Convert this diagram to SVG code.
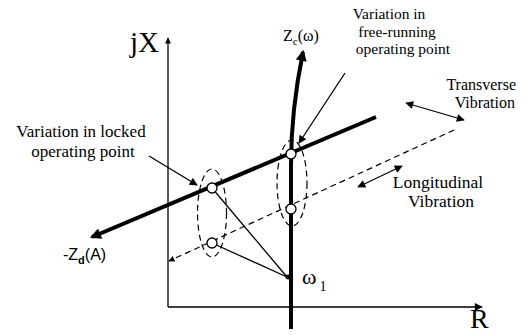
<svg xmlns="http://www.w3.org/2000/svg" width="529" height="335" viewBox="0 0 529 335">
<defs>
<style>
.serif{font-family:"Liberation Serif","Times New Roman","DejaVu Serif",serif;fill:#000}
.sans{font-family:"Liberation Sans",Arial,sans-serif;fill:#000}
.thin{stroke:#000;stroke-width:1.3;fill:none}
.thick{stroke:#000;stroke-width:4;fill:none}
.dash{stroke:#000;stroke-width:1.2;fill:none;stroke-dasharray:6 4}
.pt{fill:#fff;stroke:#000;stroke-width:1.3}
</style>
<marker id="ah" viewBox="0 0 10 10" refX="9" refY="5" markerWidth="10" markerHeight="8" markerUnits="userSpaceOnUse" orient="auto-start-reverse">
<path d="M0,0 L10,5 L0,10 Z" fill="#000"/>
</marker>
<marker id="ahs" viewBox="0 0 10 10" refX="9" refY="5" markerWidth="7" markerHeight="6" markerUnits="userSpaceOnUse" orient="auto-start-reverse">
<path d="M0,0 L10,5 L0,10 Z" fill="#000"/>
</marker>
<marker id="ahb" viewBox="0 0 10 10" refX="8" refY="5" markerWidth="14" markerHeight="11" markerUnits="userSpaceOnUse" orient="auto">
<path d="M0,0 L10,5 L0,10 Z" fill="#000"/>
</marker>
</defs>
<g id="connectors">
<line id="y-axis" class="thin" x1="168" y1="307" x2="168" y2="38" marker-end="url(#ahs)"/>
<line id="x-axis" class="thin" x1="168" y1="307" x2="482" y2="307" marker-end="url(#ah)"/>
<line id="zd" class="thick" x1="376" y1="117" x2="92" y2="237" marker-end="url(#ahb)"/>
<path id="zc" class="thick" d="M291,329 L291,165 C291,120 296,86 303,52" marker-end="url(#ahb)"/>
<line id="dashed" class="dash" x1="454" y1="130" x2="169" y2="261" marker-end="url(#ahs)"/>
<ellipse class="dash" cx="212" cy="213" rx="14.5" ry="44"/>
<ellipse class="dash" cx="292" cy="183" rx="15" ry="43"/>
<line class="thin" x1="212" y1="188" x2="287" y2="277"/>
<line class="thin" x1="212" y1="243" x2="287" y2="277"/>
<line class="thin" x1="149" y1="156" x2="197" y2="185" marker-end="url(#ah)"/>
<line class="thin" x1="345" y1="73" x2="299" y2="143" marker-end="url(#ah)"/>
<line class="thin" x1="406" y1="103" x2="464" y2="120" marker-start="url(#ah)" marker-end="url(#ah)"/>
<line class="thin" x1="358" y1="187" x2="402" y2="166" marker-start="url(#ah)" marker-end="url(#ah)"/>
</g>
<g id="points">
<circle class="pt" cx="212" cy="188" r="5"/>
<circle class="pt" cx="212" cy="243" r="5"/>
<circle class="pt" cx="291" cy="154" r="5"/>
<circle class="pt" cx="291" cy="209" r="5"/>
<circle cx="288" cy="277" r="2.5" fill="#000"/>
</g>
<g id="axis-labels">
<text class="serif" x="130" y="52" font-size="29">jX</text>
<text class="serif" x="470" y="328" font-size="28">R</text>
</g>
<g id="label-locked">
<text class="serif" font-size="17" text-anchor="middle"><tspan x="81" y="137">Variation in locked</tspan><tspan x="83" y="157">operating point</tspan></text>
</g>
<g id="label-free">
<text class="serif" font-size="15.5" text-anchor="middle"><tspan x="389" y="19">Variation in</tspan><tspan x="397" y="36.5">free-running</tspan><tspan x="403" y="54">operating point</tspan></text>
</g>
<g id="label-transverse">
<text class="serif" font-size="16" text-anchor="end"><tspan x="516" y="90">Transverse</tspan><tspan x="515" y="108">Vibration</tspan></text>
</g>
<g id="label-longitudinal">
<text class="serif" font-size="17.5" text-anchor="middle"><tspan x="438" y="188">Longitudinal</tspan><tspan x="441" y="207">Vibration</tspan></text>
</g>
<g id="label-zc">
<text class="serif" x="283" y="41" font-size="16">Z<tspan font-size="11" dy="4">c</tspan><tspan dy="-4">(ω)</tspan></text>
</g>
<g id="label-zd">
<text class="sans" x="63" y="260" font-size="16">-Z<tspan font-size="11" font-weight="bold" dy="4">d</tspan><tspan dy="-4">(A)</tspan></text>
</g>
<g id="label-w1">
<text class="serif" x="302" y="284" font-size="22">ω<tspan font-size="14" dx="3" dy="7">1</tspan></text>
</g>
</svg>
